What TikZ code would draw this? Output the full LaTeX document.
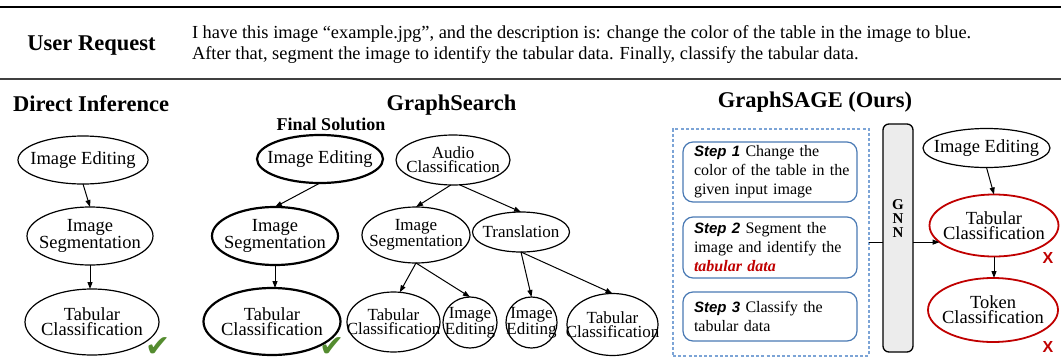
\documentclass[tikz,border=0pt]{standalone}
\usepackage{fontspec}
\setmainfont{Liberation Serif}
\newfontfamily\labelsans{Liberation Sans}
\newfontfamily\symbolfont{DejaVu Sans}
\usetikzlibrary{arrows.meta,shapes.geometric}

\definecolor{okgreen}{RGB}{84,140,47}
\definecolor{errred}{RGB}{192,0,0}
\definecolor{planblue}{RGB}{124,164,214}
\definecolor{stepblue}{RGB}{74,122,180}
\definecolor{gnnfill}{RGB}{236,236,236}

% bold-italic sans tag that opens every plan step
\newcommand\steptag[1]{{\labelsans\bfseries\itshape\fontsize{15}{19}\selectfont #1}}

\begin{document}
\begin{tikzpicture}[x=1pt,y=-1pt,
  every node/.style={inner sep=0pt, outer sep=0pt},
  ell/.style 2 args={ellipse, draw, line width=1.2pt, minimum width=#1pt, minimum height=#2pt},
  chosen/.style={line width=2.2pt},
  wrong/.style={draw=errred, line width=1.8pt},
  tasktext/.style={align=center, font=\fontsize{18.5}{15}\selectfont},
  smalltext/.style={align=center, font=\fontsize{17}{14}\selectfont},
  arr/.style={-{Triangle[length=7pt,width=5pt]}, line width=1pt},
  title/.style={anchor=base, font=\bfseries\fontsize{22.5}{24}\selectfont},
  body/.style={anchor=base west, font=\fontsize{18.4}{21}\selectfont},
  stepbox/.style={draw=stepblue, rounded corners=10pt, line width=1.2pt,
    minimum width=174pt, inner xsep=11pt, text width=152pt, align=left,
    font=\fontsize{16}{19}\selectfont},
  tick/.style={text=okgreen, font=\symbolfont\fontsize{30}{30}\selectfont},
  cross/.style={text=errred, font=\labelsans\bfseries\fontsize{16}{16}\selectfont}
]
\useasboundingbox (0,0) rectangle (1061,362);

% ---- request banner ----
\coordinate (ruleTL) at (0,7);
\coordinate (ruleTR) at (1061,7);
\coordinate (ruleBL) at (0,79);
\coordinate (ruleBR) at (1061,79);
\draw[line width=2pt] (ruleTL) -- (ruleTR);
\draw[line width=1.5pt, black!75] (ruleBL) -- (ruleBR);
\node[title] (req) at (91.5,50) {User Request};
\node[body] (reqA) at (192,38.5) {I have this image “example.jpg”, and the description is: change the color of the table in the image to blue.};
\node[body] (reqB) at (192,59) {After that, segment the image to identify the tabular data. Finally, classify the tabular data.};

% ---- section titles ----
\node[title] (tDI) at (91,111) {Direct Inference};
\node[title] (tGS) at (451.5,110) {GraphSearch};
\node[title] (tGA) at (815,107) {GraphSAGE (Ours)};
\node[anchor=base, font=\bfseries\fontsize{18}{20}\selectfont] (final) at (331,130.5) {Final Solution};

% ---- direct inference chain ----
\node[ell={130}{48}, label={[tasktext]center:Image Editing}] (di1) at (83,160) {};
\node[ell={126}{58}, label={[tasktext]center:{Image\\Segmentation}}] (di2) at (90,236) {};
\node[ell={134}{66}, label={[tasktext]center:{Tabular\\Classification}}] (di3) at (92,322) {};
\draw[arr] (di1.south) -- (di2.north);
\draw[arr] (di2.south) -- (di2.south |- di3.north);
\node[tick] (ok1) at (158,347) {✔};

% ---- graph search: chosen path ----
\node[ell={126}{48}, chosen, label={[tasktext]center:Image Editing}] (gs1) at (320,159) {};
\node[ell={126}{58}, chosen, label={[tasktext]center:{Image\\Segmentation}}] (gs2) at (275,236) {};
\node[ell={137}{67}, chosen, label={[tasktext]center:{Tabular\\Classification}}] (gs3) at (272,321.5) {};
\draw[arr] (gs1.south) -- (gs2.north);
\draw[arr] (gs2.south) -- (gs2.south |- gs3.north);
\node[tick] (ok2) at (332,347) {✔};

% ---- graph search: explored tree ----
\node[ell={114}{50}, label={[smalltext]center:{Audio\\Classification}}] (ac) at (453,160) {};
\node[ell={108}{56}, label={[smalltext]center:{Image\\Segmentation}}] (seg) at (416,235) {};
\node[ell={97}{40}, label={[smalltext]center:Translation}] (tr) at (521,232) {};
\node[ell={93}{60}, label={[smalltext]center:{Tabular\\Classification}}] (b1) at (393.5,322) {};
\node[ell={54}{51}, label={[smalltext]center:{Image\\Editing}}] (b2) at (470,322.5) {};
\node[ell={51}{51}, label={[smalltext]center:{Image\\Editing}}] (b3) at (531.5,322.5) {};
\node[ell={91}{62}, label={[smalltext]center:{Tabular\\Classification}}] (b4) at (612.5,324.5) {};
\draw[arr] (ac.265) -- (seg.north);
\draw[arr] (ac.285) -- (tr.north);
\draw[arr] (seg.south) -- (b1.78);
\draw[arr] (seg.south) -- (b2.north);
\draw[arr] (tr.south) -- (b3.north);
\draw[arr] (tr.south) -- (b4.north);

% ---- GraphSAGE: decomposed plan ----
\node[draw=planblue, dashed, dash pattern=on 3pt off 2.2pt, line width=1.2pt,
      minimum width=196pt, minimum height=227pt] (plan) at (771,242.5) {};
\node[stepbox, minimum height=60pt] (s1) at (770,172)
  {\steptag{Step 1} Change the\\\mbox{color of the table in the}\\given input image};
\node[stepbox, minimum height=61pt] (s2) at (770,247.5)
  {\steptag{Step 2} Segment the\\image and identify the\\{\color{errred}\bfseries\itshape tabular data}};
\node[stepbox, minimum height=49pt] (s3) at (770,316.5)
  {\steptag{Step 3} Classify the\\tabular data};

% ---- GNN block ----
\node[draw, fill=gnnfill, rounded corners=6pt, line width=1.3pt,
      minimum width=30pt, minimum height=228pt] (gnn) at (898,238) {};
\node[align=center, font=\bfseries\fontsize{15}{14}\selectfont] (gnnlabel) at (898,219) {G\\N\\N};

% ---- GraphSAGE: predicted tools ----
\node[ell={127}{39}, label={[tasktext]center:Image Editing}] (sie) at (986.5,148) {};
\node[ell={129}{62}, wrong, label={[tasktext]center:{Tabular\\Classification}}] (stc) at (994,225.5) {};
\node[ell={130}{64}, wrong, label={[tasktext]center:{Token\\Classification}}] (stk) at (993,310) {};
\draw[line width=1pt] (plan.east |- stc.197) -- (gnn.west |- stc.197);
\draw[arr] (gnn.east |- stc.197) -- (stc.197);
\draw[arr] (sie.south) -- (stc.north);
\draw[arr] (stc.south) -- (stc.south |- stk.north);
\node[cross] (x1) at (1048,257.5) {X};
\node[cross] (x2) at (1048,347) {X};
\end{tikzpicture}
\end{document}
